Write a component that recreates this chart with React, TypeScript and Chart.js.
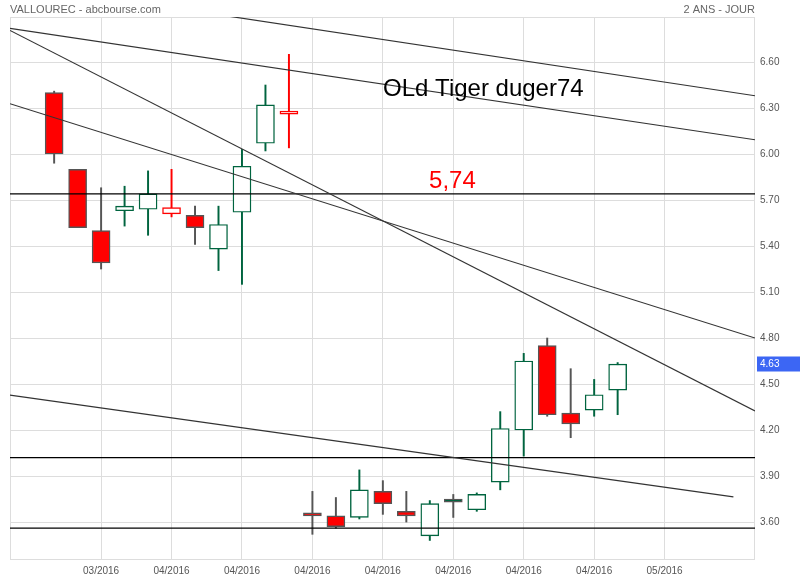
import React, { useEffect, useRef } from 'react';
import { Chart, registerables } from 'chart.js';

Chart.register(...registerables);

// ---- data ----
const candleIndex = [0, 1, 2, 3, 4, 5, 6, 7, 8, 9, 10, 11, 12, 13, 14, 15, 16, 17, 18, 19, 20, 21, 22, 23, 24];
const opens = [6.40, 5.90, 5.50, 5.63, 5.64, 5.61, 5.60, 5.38, 5.62, 6.07, 6.26, 3.66, 3.64, 3.63, 3.80, 3.67, 3.51, 3.75, 3.68, 3.86, 4.20, 4.75, 4.31, 4.33, 4.46];
const highs = [6.41, 5.90, 5.78, 5.79, 5.89, 5.90, 5.66, 5.66, 6.03, 6.45, 6.65, 3.80, 3.76, 3.94, 3.87, 3.80, 3.74, 3.78, 3.79, 4.32, 4.70, 4.80, 4.60, 4.53, 4.64];
const lows = [5.94, 5.52, 5.25, 5.53, 5.47, 5.59, 5.41, 5.24, 5.15, 6.02, 6.04, 3.52, 3.56, 3.62, 3.65, 3.60, 3.48, 3.63, 3.67, 3.81, 4.03, 4.29, 4.15, 4.29, 4.30];
const closes = [6.00, 5.52, 5.29, 5.66, 5.74, 5.65, 5.52, 5.54, 5.92, 6.32, 6.28, 3.64, 3.57, 3.81, 3.72, 3.64, 3.72, 3.73, 3.78, 4.21, 4.65, 4.30, 4.24, 4.43, 4.63];

const xTickValues = [2, 5, 8, 11, 14, 17, 20, 23, 26];
const xTickLabels = ['03/2016', '04/2016', '04/2016', '04/2016', '04/2016', '04/2016', '04/2016', '04/2016', '05/2016'];
const yTickValues = [3.6, 3.9, 4.2, 4.5, 4.8, 5.1, 5.4, 5.7, 6.0, 6.3, 6.6];

const xMin = -1.88;
const xMax = 29.85;
const yMin = 3.359;
const yMax = 6.8935;

// trend lines (two points each: x values, y values)
const trendAX = [-1.88, 29.85];
const trendAY = [6.819, 6.093];
const trendBX = [-1.88, 29.85];
const trendBY = [6.806, 4.325];
const trendCX = [-1.88, 29.85];
const trendCY = [6.328, 4.800];
const trendDX = [5.0, 29.85];
const trendDY = [6.955, 6.380];
const trendEX = [-1.88, 28.93];
const trendEY = [4.428, 3.764];

const levels = [5.74, 4.02, 3.56];

const headerLeft = 'VALLOUREC - abcbourse.com';
const headerRight = '2 ANS - JOUR';
const noteText = 'OLd Tiger duger74';
const noteX = 14.01;
const noteY = 6.376;
const levelText = '5,74';
const levelTextX = 15.97;
const levelTextY = 5.778;
const lastPrice = 4.63;

// ---- styles ----
const RED = '#ff0000';
const GREEN = '#00643f';
const FILLED_EDGE = '#555555';
const FONT = '"Liberation Sans", Arial, Helvetica, sans-serif';

function candleStyle(i: number) {
  const prev = i > 0 ? closes[i - 1] : opens[i];
  const up = closes[i] > prev;
  const filled = closes[i] < opens[i];
  const color = up ? GREEN : RED;
  return {
    fill: filled ? color : '#ffffff',
    border: filled ? FILLED_EDGE : color,
    wick: filled ? FILLED_EDGE : color,
  };
}

const overlayPlugin = {
  id: 'overlay',
  beforeDatasetsDraw(chart: any) {
    const { ctx, chartArea } = chart;
    ctx.save();
    ctx.strokeStyle = '#dddddd';
    ctx.lineWidth = 1;
    ctx.strokeRect(chartArea.left + 0.5, chartArea.top + 0.5, chartArea.right - chartArea.left - 1, chartArea.bottom - chartArea.top);
    ctx.restore();
  },
  afterDraw(chart: any) {
    const { ctx, chartArea } = chart;
    const xs = chart.scales.x;
    const ys = chart.scales.y;
    ctx.save();
    ctx.font = '11px ' + FONT;
    ctx.fillStyle = '#666666';
    ctx.textBaseline = 'alphabetic';
    ctx.textAlign = 'left';
    ctx.fillText(headerLeft, chartArea.left, 13);
    ctx.textAlign = 'right';
    ctx.fillText(headerRight, chartArea.right, 13);

    ctx.font = '24px ' + FONT;
    ctx.textAlign = 'left';
    ctx.fillStyle = '#000000';
    ctx.fillText(noteText, xs.getPixelForValue(noteX), ys.getPixelForValue(noteY));
    ctx.fillStyle = '#ff0000';
    ctx.fillText(levelText, xs.getPixelForValue(levelTextX), ys.getPixelForValue(levelTextY));

    const py = ys.getPixelForValue(lastPrice);
    ctx.fillStyle = '#3c66f4';
    ctx.fillRect(chartArea.right + 2, Math.round(py) - 7.5, 800 - chartArea.right - 2, 15);
    ctx.fillStyle = '#ffffff';
    ctx.font = '10px ' + FONT;
    ctx.textBaseline = 'middle';
    ctx.fillText(lastPrice.toFixed(2), chartArea.right + 5, Math.round(py));
    ctx.restore();
  },
};

function lineDataset(xs: number[], ys: number[], color: string, width: number) {
  return {
    type: 'line' as const,
    data: xs.map((x, k) => ({ x, y: ys[k] })),
    borderColor: color,
    borderWidth: width,
    pointRadius: 0,
    fill: false,
    order: -1,
    clip: 0,
  };
}

export default function App() {
  const ref = useRef<HTMLCanvasElement | null>(null);

  useEffect(() => {
    if (!ref.current) return;
    const styles = candleIndex.map((i) => candleStyle(i));
    const chart = new Chart(ref.current, {
      type: 'bar',
      data: {
        datasets: [
          {
            type: 'bar',
            data: candleIndex.map((i) => ({ x: i, y: [opens[i], closes[i]] })),
            backgroundColor: styles.map((s) => s.fill),
            borderColor: styles.map((s) => s.border),
            borderWidth: 1.4,
            borderSkipped: false,
            barThickness: 18,
            grouped: false,
            order: 1,
          } as any,
          {
            type: 'bar',
            data: candleIndex.map((i) => ({ x: i, y: [lows[i], highs[i]] })),
            backgroundColor: styles.map((s) => s.wick),
            borderWidth: 0,
            barThickness: 1.3,
            grouped: false,
            order: 2,
          } as any,
          lineDataset(trendAX, trendAY, '#333333', 1.2),
          lineDataset(trendBX, trendBY, '#333333', 1.2),
          lineDataset(trendCX, trendCY, '#333333', 1.2),
          lineDataset(trendDX, trendDY, '#333333', 1.2),
          lineDataset(trendEX, trendEY, '#333333', 1.2),
          ...levels.map((v) => lineDataset([xMin, xMax], [v, v], '#000000', 1.2)),
        ] as any,
      },
      options: {
        animation: false,
        responsive: false,
        devicePixelRatio: 1,
        layout: { padding: { left: 10, top: 17, right: 0, bottom: 0 } },
        plugins: {
          legend: { display: false },
          tooltip: { enabled: false },
          title: { display: false },
        },
        scales: {
          x: {
            type: 'linear',
            min: xMin,
            max: xMax,
            offset: false,
            grid: { color: '#dddddd', offset: false, drawTicks: false, lineWidth: 1 },
            border: { display: false },
            afterBuildTicks: (scale: any) => {
              scale.ticks = xTickValues.map((v) => ({ value: v }));
            },
            afterFit: (scale: any) => {
              scale.height = 21;
            },
            ticks: {
              autoSkip: false,
              maxRotation: 0,
              padding: 6,
              color: '#555555',
              font: { family: FONT, size: 10 },
              callback: (v: any) => {
                const k = xTickValues.indexOf(Number(v));
                return k >= 0 ? xTickLabels[k] : '';
              },
            },
          },
          y: {
            type: 'linear',
            position: 'right',
            min: yMin,
            max: yMax,
            grid: { color: '#dddddd', drawTicks: false, lineWidth: 1 },
            border: { display: false },
            afterBuildTicks: (scale: any) => {
              scale.ticks = yTickValues.map((v) => ({ value: v }));
            },
            afterFit: (scale: any) => {
              scale.width = 45;
            },
            ticks: {
              padding: 5,
              color: '#555555',
              font: { family: FONT, size: 10 },
              callback: (v: any) => Number(v).toFixed(2),
            },
          },
        },
      } as any,
      plugins: [overlayPlugin],
    });
    return () => chart.destroy();
  }, []);

  return (
    <div style={{ position: 'fixed', left: 0, top: 0, width: 800, height: 580, background: '#ffffff' }}>
      <canvas ref={ref} width={800} height={580} style={{ display: 'block', width: 800, height: 580 }} />
    </div>
  );
}
